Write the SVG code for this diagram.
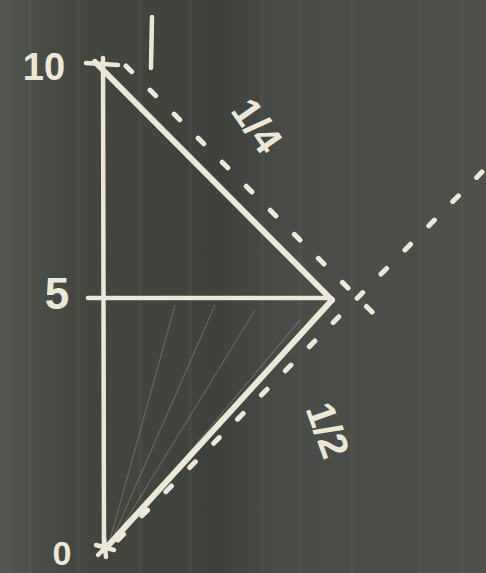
<svg xmlns="http://www.w3.org/2000/svg" width="486" height="573" viewBox="0 0 486 573">
<style>
.chalk{stroke:#ebe8d8;stroke-linecap:round;fill:none}
.thick{stroke-width:6}
.mid{stroke-width:4.5}
.dash{stroke-width:5;stroke-dasharray:8 26}
.faint{stroke:#c9ccc4;stroke-width:1.2;opacity:0.25}
.lbl{font-family:"Liberation Sans","DejaVu Sans",sans-serif;fill:#ebe8d8;font-weight:bold}
</style>
<defs>
<linearGradient id="bg" x1="0" y1="0" x2="1" y2="0">
<stop offset="0" stop-color="#53564f"/>
<stop offset="0.15" stop-color="#44473f"/>
<stop offset="0.45" stop-color="#3f423c"/>
<stop offset="0.6" stop-color="#4a4c47"/>
<stop offset="1" stop-color="#4e504b"/>
</linearGradient>
</defs>
<rect x="0" y="0" width="486" height="573" fill="url(#bg)"/>
<g id="streaks" opacity="0.18" stroke="#6b6e66" stroke-width="3">
<line x1="8" y1="0" x2="8" y2="573"/>
<line x1="30" y1="0" x2="30" y2="573"/>
<line x1="78" y1="0" x2="78" y2="573"/>
<line x1="140" y1="0" x2="140" y2="573"/>
<line x1="190" y1="0" x2="190" y2="573"/>
<line x1="262" y1="0" x2="262" y2="573"/>
<line x1="300" y1="0" x2="300" y2="573"/>
<line x1="352" y1="0" x2="352" y2="573"/>
<line x1="420" y1="0" x2="420" y2="573"/>
<line x1="462" y1="0" x2="462" y2="573"/>
</g>
<g id="faint-fan">
<line class="faint" x1="110" y1="540" x2="175" y2="305"/>
<line class="faint" x1="112" y1="540" x2="215" y2="305"/>
<line class="faint" x1="114" y1="540" x2="255" y2="310"/>
<line class="faint" x1="116" y1="540" x2="300" y2="320"/>
</g>
<g id="axes">
<line class="chalk mid" x1="103" y1="58" x2="104" y2="548"/>
<line class="chalk mid" x1="86" y1="63" x2="118" y2="65"/>
<line class="chalk mid" x1="88" y1="298" x2="330" y2="298"/>
<path class="chalk mid" d="M96 545 L114 550 M104 538 L106 557 M98 555 L112 541"/>
</g>
<g id="dashed-lines">
<line class="chalk dash" x1="126" y1="66" x2="388" y2="328"/>
<line class="chalk dash" x1="118" y1="540" x2="482" y2="172"/>
</g>
<g id="solid-lines">
<line class="chalk thick" x1="95" y1="62" x2="332" y2="300"/>
<line class="chalk thick" x1="106" y1="548" x2="332" y2="300"/>
</g>
<g id="labels">
<text class="lbl" x="44" y="80" font-size="38" text-anchor="middle">10</text>
<line class="chalk mid" x1="152" y1="17" x2="151" y2="68"/>
<text class="lbl" x="57" y="309" font-size="44" text-anchor="middle">5</text>
<text class="lbl" x="62" y="565" font-size="34" text-anchor="middle">0</text>
<text class="lbl" x="258" y="140" font-size="40" text-anchor="middle" transform="rotate(55 258 125)">1/4</text>
<text class="lbl" x="328" y="444" font-size="40" text-anchor="middle" transform="rotate(70 328 430)">1/2</text>
</g>
</svg>
